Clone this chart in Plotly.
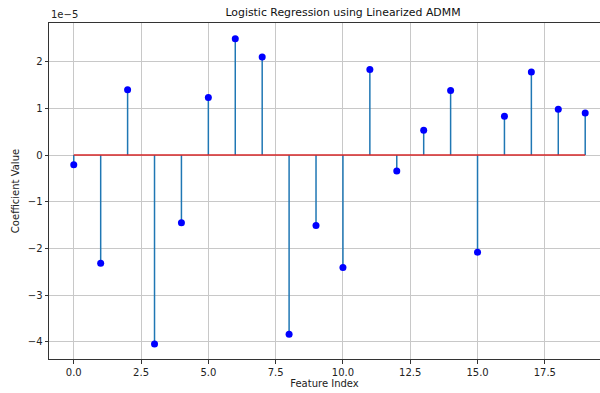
import plotly.graph_objects as go

features = list(range(20))
coef_e5 = [-0.21, -2.32, 1.40, -4.05, -1.45, 1.235, 2.49, 2.10, -3.84, -1.51,
           -2.41, 1.835, -0.34, 0.53, 1.385, -2.08, 0.83, 1.78, 0.98, 0.90]
scale = 1e-5
coefs = [v * scale for v in coef_e5]
ytick_vals = [-4, -3, -2, -1, 0, 1, 2]
ytick_text = [("\u2212" + str(abs(v))) if v < 0 else str(v) for v in ytick_vals]
xtick_vals = [0.0, 2.5, 5.0, 7.5, 10.0, 12.5, 15.0, 17.5]
xtick_text = ["%.1f" % v for v in xtick_vals]

stem_x, stem_y = [], []
for xi, yi in zip(features, coefs):
    stem_x += [xi, xi, None]
    stem_y += [0, yi, None]

FONT = "DejaVu Sans"
fig = go.Figure()
fig.add_trace(go.Scatter(x=stem_x, y=stem_y, mode="lines",
                         line=dict(color="#1f77b4", width=1.5),
                         hoverinfo="skip", showlegend=False))
fig.add_trace(go.Scatter(x=[min(features), max(features)], y=[0, 0], mode="lines",
                         line=dict(color="#d62728", width=1.5), showlegend=False))
fig.add_trace(go.Scatter(x=features, y=coefs, mode="markers",
                         marker=dict(color="#0000ff", size=7), showlegend=False))

fig.update_layout(
    width=600, height=393,
    margin=dict(l=49, r=0, t=23, b=34, autoexpand=False),
    plot_bgcolor="white", paper_bgcolor="white",
    font=dict(family=FONT, size=10, color="#222222"),
    title=dict(text="Logistic Regression using Linearized ADMM",
               x=343 / 600, xanchor="center",
               y=1 - 12 / 393, yref="container", yanchor="middle",
               font=dict(family=FONT, size=10.9, color="#111111")),
    xaxis=dict(range=[-0.92, 19.55], tickvals=xtick_vals, ticktext=xtick_text,
               showgrid=True, gridcolor="#c8c8c8", gridwidth=1,
               showline=True, linecolor="#333333", linewidth=1, mirror=True,
               ticks="outside", ticklen=3.5, tickcolor="#333333",
               zeroline=False, automargin=False,
               title=dict(text="Feature Index", standoff=0,
                          font=dict(family=FONT, size=10))),
    yaxis=dict(range=[-4.37 * scale, 2.83 * scale],
               tickvals=[v * scale for v in ytick_vals], ticktext=ytick_text,
               showgrid=True, gridcolor="#c8c8c8", gridwidth=1,
               showline=True, linecolor="#333333", linewidth=1,
               ticks="outside", ticklen=3.5, tickcolor="#333333",
               zeroline=False, automargin=False,
               title=dict(text="Coefficient Value", standoff=6,
                          font=dict(family=FONT, size=10))),
)
fig.add_annotation(text="1e\u22125", xref="paper", yref="paper", x=0, y=1,
                   xanchor="left", yanchor="bottom", showarrow=False,
                   font=dict(family=FONT, size=10, color="#222222"), yshift=1)
fig.write_html("out.html", config={"displayModeBar": False},
               post_script="document.body.style.margin='0';document.body.style.overflow='hidden';")
